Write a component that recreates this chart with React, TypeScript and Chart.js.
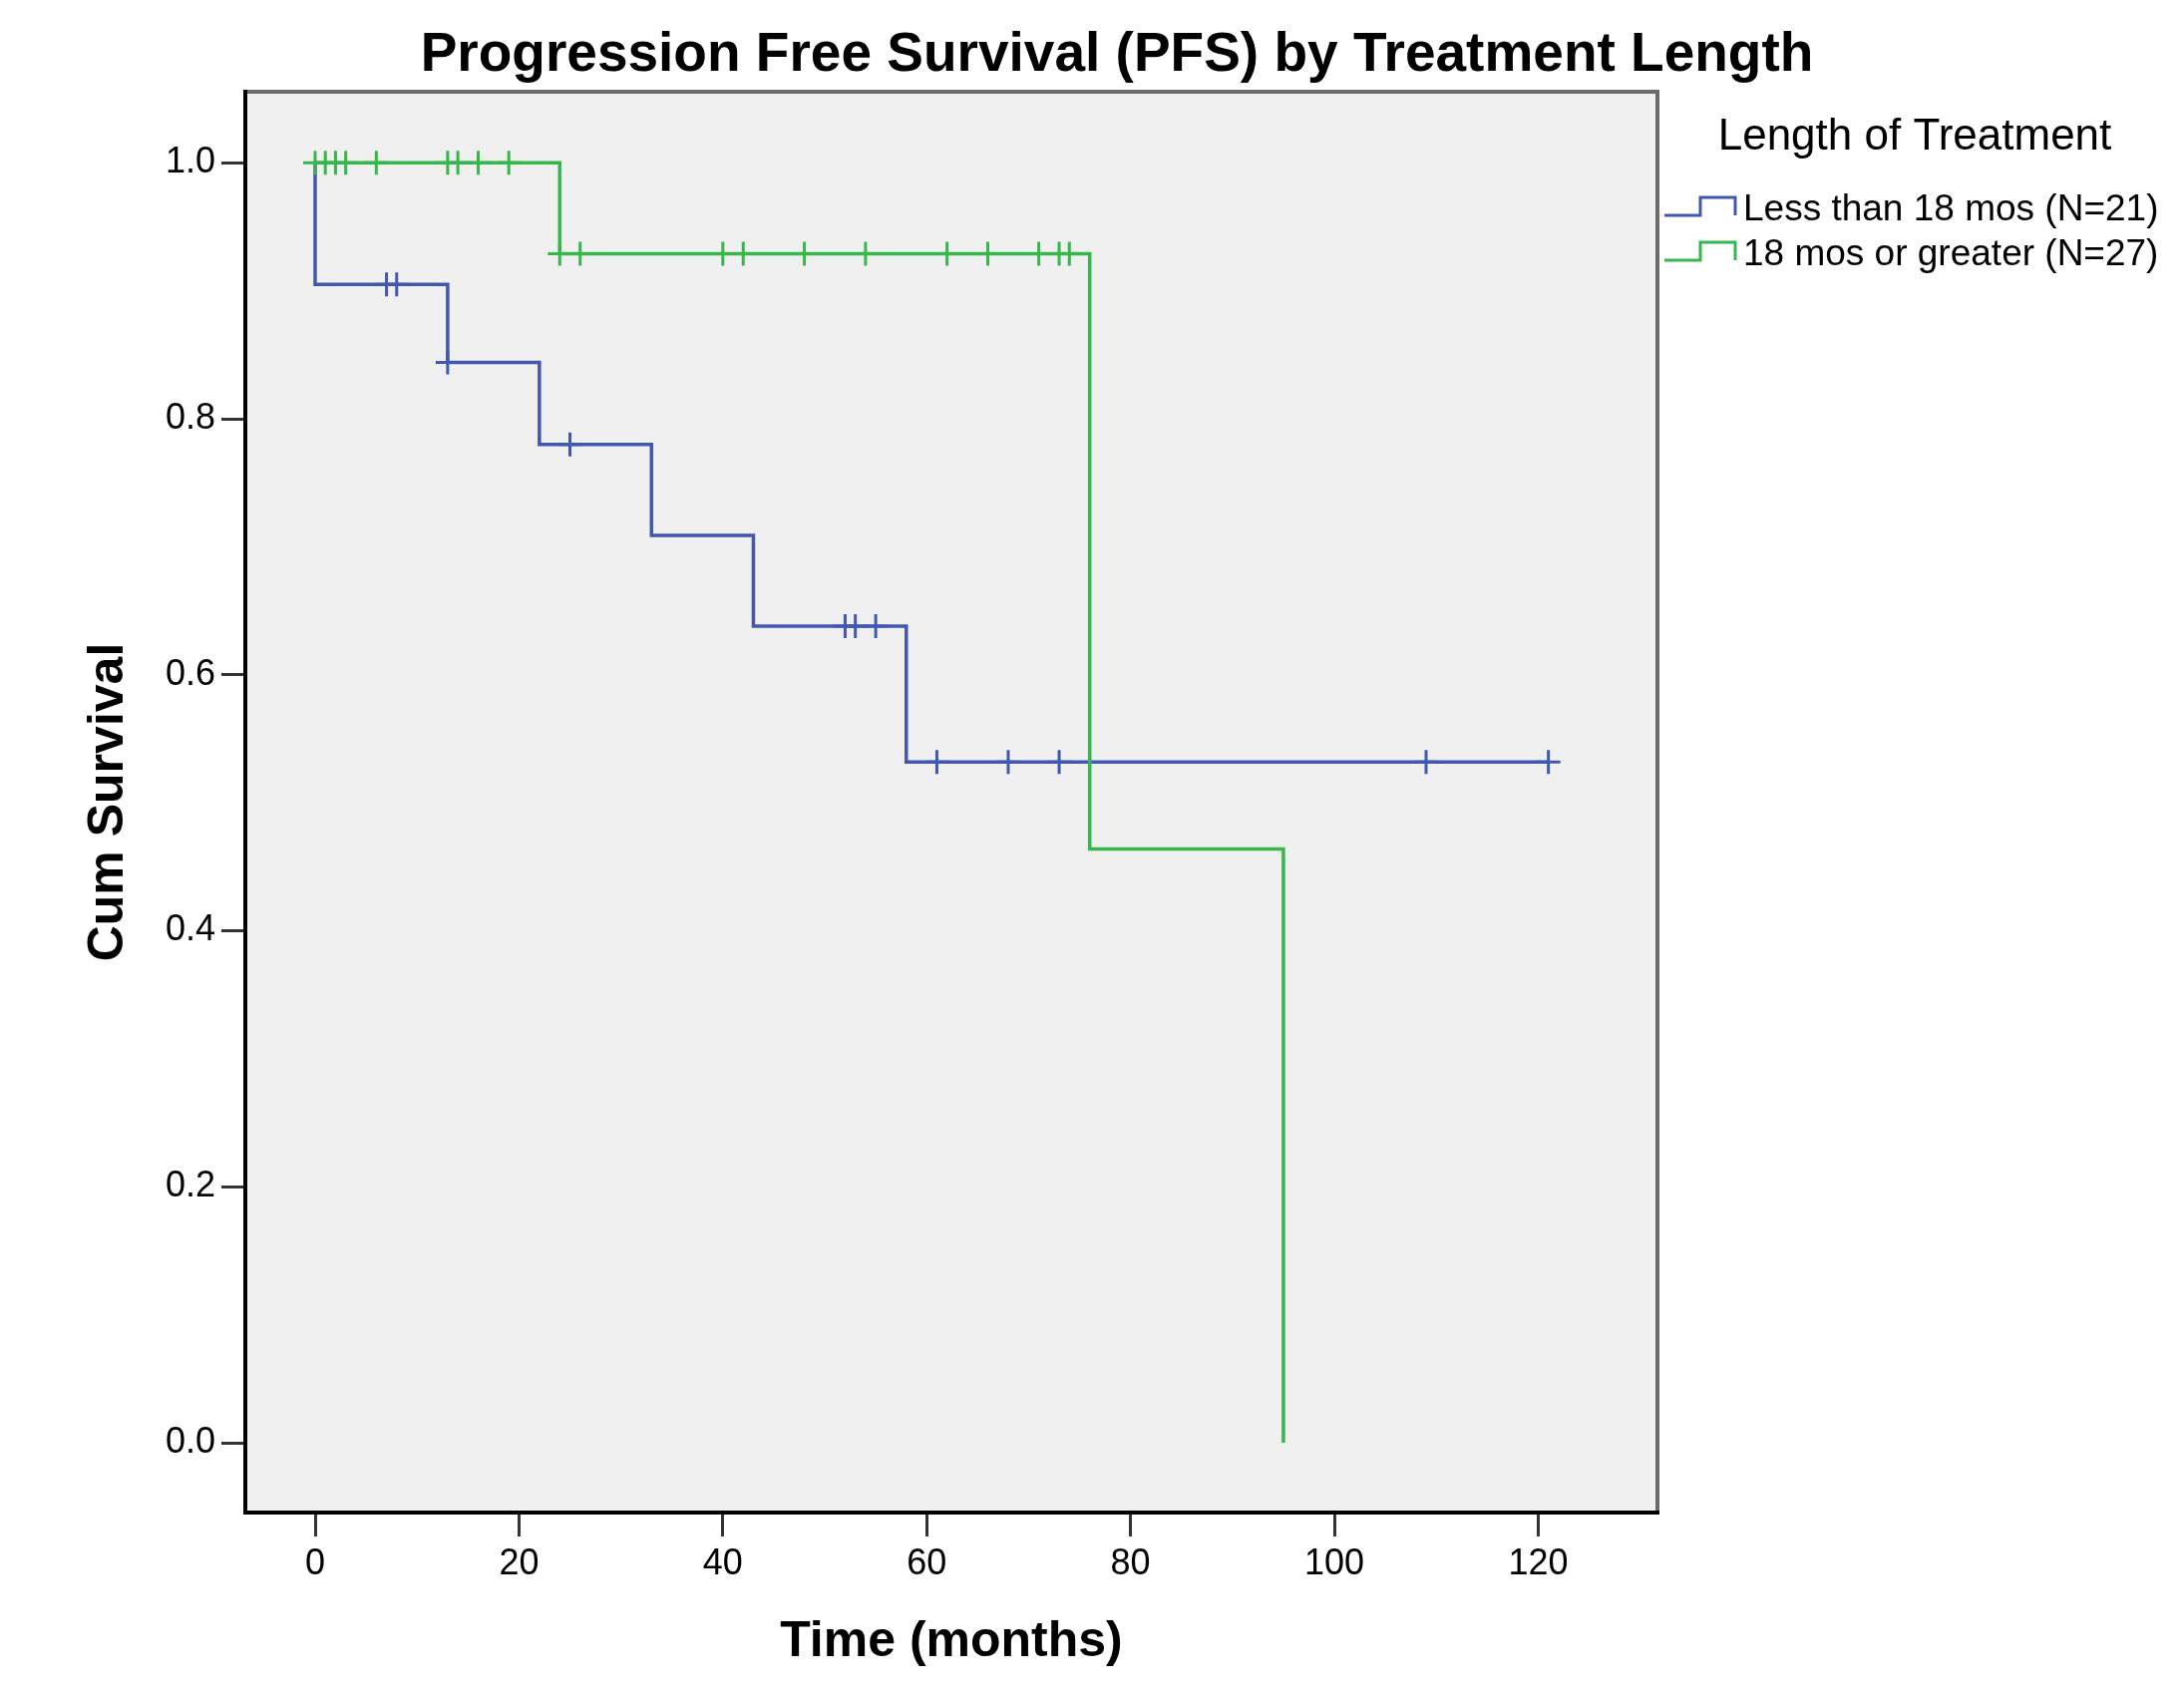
import React, { useEffect, useRef } from "react";
import { Chart, registerables } from "chart.js";

Chart.register(...registerables);

// ---- Data ----
const titleText = "Progression Free Survival (PFS) by Treatment Length";
const xTitle = "Time (months)";
const yTitle = "Cum Survival";
const legendTitle = "Length of Treatment";
const seriesNames = ["Less than 18 mos (N=21)", "18 mos or greater (N=27)"];

const xTicks = [0, 20, 40, 60, 80, 100, 120];
const yTicks = [0.0, 0.2, 0.4, 0.6, 0.8, 1.0];

// Less than 18 mos: step curve
const shortTimes = [0, 0, 13, 22, 33, 43, 58, 121];
const shortSurv = [1.0, 0.905, 0.844, 0.78, 0.709, 0.638, 0.532, 0.532];
const shortCensorTimes = [7, 8, 13, 25, 52, 53, 55, 61, 68, 73, 109, 121];
const shortCensorSurv = [0.905, 0.905, 0.844, 0.78, 0.638, 0.638, 0.638, 0.532, 0.532, 0.532, 0.532, 0.532];

// 18 mos or greater: step curve
const longTimes = [0, 24, 76, 95];
const longSurv = [1.0, 0.929, 0.464, 0.0];
const longCensorTimes = [0, 1, 2, 3, 6, 13, 14, 16, 19, 24, 26, 40, 42, 48, 54, 62, 66, 71, 73, 74];
const longCensorSurv = [1, 1, 1, 1, 1, 1, 1, 1, 1, 0.929, 0.929, 0.929, 0.929, 0.929, 0.929, 0.929, 0.929, 0.929, 0.929, 0.929];

const BLUE = "#4158ae";
const GREEN = "#35b74b";
const FONT = "'Liberation Sans', Arial, sans-serif";

const pts = (xs: number[], ys: number[]) => xs.map((x, i) => ({ x, y: ys[i] }));

export default function App() {
  const ref = useRef<HTMLCanvasElement | null>(null);

  useEffect(() => {
    document.body.style.margin = "0";
    const canvas = ref.current!;
    const W = 2190;
    const H = 1701;

    const decor = {
      id: "decor",
      beforeDraw(chart: any) {
        const { ctx, chartArea: a } = chart;
        ctx.save();
        ctx.fillStyle = "#ffffff";
        ctx.fillRect(0, 0, W, H);
        ctx.fillStyle = "#f0f0f0";
        ctx.fillRect(a.left, a.top, a.right - a.left, a.bottom - a.top);
        ctx.restore();
      },
      afterDraw(chart: any) {
        const { ctx, chartArea: a } = chart;
        ctx.save();
        // frame
        ctx.lineWidth = 4;
        ctx.strokeStyle = "#6a6a6a";
        ctx.beginPath();
        ctx.moveTo(a.left, a.top);
        ctx.lineTo(a.right, a.top);
        ctx.lineTo(a.right, a.bottom);
        ctx.stroke();
        ctx.strokeStyle = "#000000";
        ctx.beginPath();
        ctx.moveTo(a.left, a.top - 2);
        ctx.lineTo(a.left, a.bottom);
        ctx.lineTo(a.right + 2, a.bottom);
        ctx.stroke();

        // title
        ctx.fillStyle = "#000";
        ctx.textAlign = "center";
        ctx.textBaseline = "middle";
        ctx.font = `bold 55px ${FONT}`;
        ctx.fillText(titleText, 1120, 56);

        // legend
        ctx.font = `44px ${FONT}`;
        ctx.fillText(legendTitle, 1920, 138);
        ctx.textAlign = "left";
        ctx.font = `37px ${FONT}`;
        const rows = [
          { y: 211, color: BLUE, name: seriesNames[0] },
          { y: 256, color: GREEN, name: seriesNames[1] },
        ];
        rows.forEach((r) => {
          const base = r.y + 5;
          const top = r.y - 13;
          ctx.strokeStyle = r.color;
          ctx.lineWidth = 3;
          ctx.beginPath();
          ctx.moveTo(1669, base);
          ctx.lineTo(1705, base);
          ctx.lineTo(1705, top);
          ctx.lineTo(1740, top);
          ctx.lineTo(1740, base);
          ctx.stroke();
          ctx.fillStyle = "#000";
          ctx.fillText(r.name, 1748, r.y);
        });
        ctx.restore();
      },
    };

    const chart = new Chart(canvas, {
      type: "line",
      data: {
        datasets: [
          {
            label: seriesNames[1] + " censored",
            type: "scatter",
            data: pts(longCensorTimes, longCensorSurv),
            showLine: false,
            pointStyle: "cross",
            pointRadius: 12,
            pointBorderWidth: 3,
            borderColor: GREEN,
            backgroundColor: GREEN,
          } as any,
          {
            label: seriesNames[1],
            data: pts(longTimes, longSurv),
            stepped: "before",
            borderColor: GREEN,
            borderWidth: 3.5,
            pointRadius: 0,
            fill: false,
          },
          {
            label: seriesNames[0] + " censored",
            type: "scatter",
            data: pts(shortCensorTimes, shortCensorSurv),
            showLine: false,
            pointStyle: "cross",
            pointRadius: 12,
            pointBorderWidth: 3,
            borderColor: BLUE,
            backgroundColor: BLUE,
          } as any,
          {
            label: seriesNames[0],
            data: pts(shortTimes, shortSurv),
            stepped: "before",
            borderColor: BLUE,
            borderWidth: 3.5,
            pointRadius: 0,
            fill: false,
          },
        ],
      },
      options: {
        animation: false,
        responsive: false,
        devicePixelRatio: 1,
        layout: { padding: { left: 0, top: 92, right: 528, bottom: 0 } },
        plugins: {
          legend: { display: false },
          title: { display: false },
          tooltip: { enabled: false },
        },
        scales: {
          x: {
            type: "linear",
            min: -6.85,
            max: 131.7,
            afterFit: (s: any) => {
              s.height = 184;
            },
            afterBuildTicks: (s: any) => {
              s.ticks = xTicks.map((v) => ({ value: v }));
            },
            ticks: {
              font: { family: FONT, size: 36 },
              color: "#000",
              padding: 6,
              maxRotation: 0,
              callback: (v: any) => String(v),
            },
            grid: {
              display: true,
              drawOnChartArea: false,
              drawTicks: true,
              tickLength: 24,
              tickColor: "#333",
              tickWidth: 3,
            },
            border: { display: false },
            title: {
              display: true,
              text: xTitle,
              color: "#000",
              font: { family: FONT, size: 50, weight: "bold" },
              padding: { top: 0, bottom: 24 },
            },
          },
          y: {
            type: "linear",
            min: -0.0545,
            max: 1.0556,
            afterFit: (s: any) => {
              s.width = 246;
            },
            afterBuildTicks: (s: any) => {
              s.ticks = yTicks.map((v) => ({ value: v }));
            },
            ticks: {
              font: { family: FONT, size: 36 },
              color: "#000",
              padding: 6,
              callback: (v: any) => Number(v).toFixed(1),
            },
            grid: {
              display: true,
              drawOnChartArea: false,
              drawTicks: true,
              tickLength: 24,
              tickColor: "#333",
              tickWidth: 3,
            },
            border: { display: false },
            title: {
              display: true,
              text: yTitle,
              color: "#000",
              font: { family: FONT, size: 50, weight: "bold" },
              padding: { top: 79, bottom: 0 },
            },
          },
        },
      } as any,
      plugins: [decor],
    });

    return () => chart.destroy();
  }, []);

  return (
    <canvas
      ref={ref}
      width={2190}
      height={1701}
      style={{ display: "block", width: "2190px", height: "1701px" }}
    />
  );
}
